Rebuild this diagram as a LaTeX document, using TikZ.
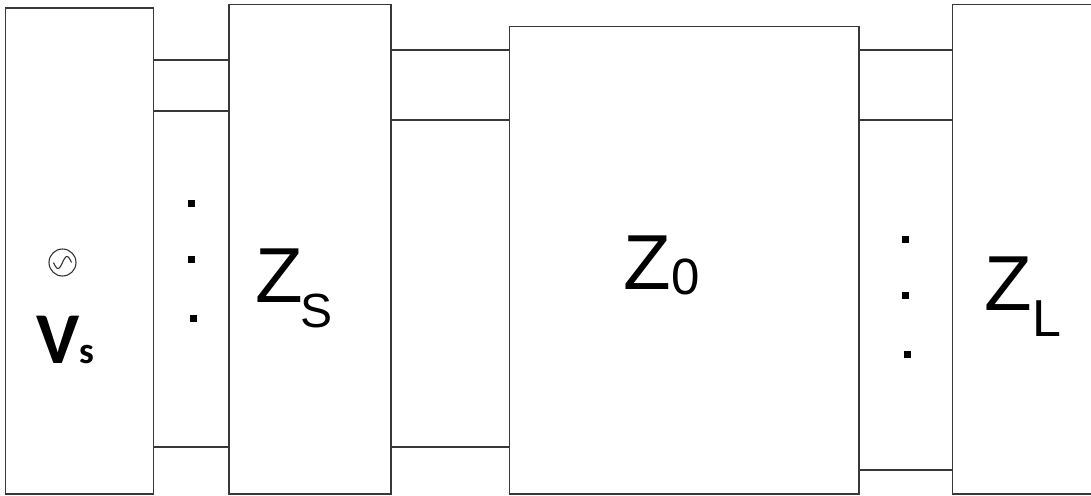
\documentclass[tikz,border=0pt]{standalone}
\usepackage{fontspec}
\setmainfont{Liberation Sans}
\newfontfamily\calib{Carlito}
\begin{document}
\begin{tikzpicture}[x=1pt,y=-1pt,
  box/.style={draw=black!78,line width=1.4pt,rectangle,inner sep=0pt,outer sep=0pt},
  wire/.style={draw=black!78,line width=1.4pt},
  sqdot/.style={fill=black,rectangle,minimum size=7pt,inner sep=0pt,outer sep=0pt},
  lbl/.style={inner sep=0pt,outer sep=0pt,anchor=base west,font=\fontsize{78}{78}\selectfont}]
\useasboundingbox (0,0) rectangle (1091,495);
\clip (0,0) rectangle (1091,495);
% boxes
\node[box,minimum width=148pt,minimum height=486pt] (b1) at (79.5,251) {};
\node[box,minimum width=162pt,minimum height=489.3pt] (b2) at (310,249.35) {};
\node[box,minimum width=349.7pt,minimum height=467.3pt] (b3) at (684.15,260.35) {};
\node[box,minimum width=160pt,minimum height=489.3pt] (b4) at (1032.7,249.35) {};
% connectors
\draw[wire] (b1.east |- 0,60) -- (b2.west |- 0,60);
\draw[wire] (b1.east |- 0,111) -- (b2.west |- 0,111);
\draw[wire] (b1.east |- 0,447) -- (b2.west |- 0,447);
\draw[wire] (b2.east |- 0,50) -- (b3.west |- 0,50);
\draw[wire] (b2.east |- 0,120) -- (b3.west |- 0,120);
\draw[wire] (b2.east |- 0,447) -- (b3.west |- 0,447);
\draw[wire] (b3.east |- 0,50) -- (b4.west |- 0,50);
\draw[wire] (b3.east |- 0,120) -- (b4.west |- 0,120);
\draw[wire] (b3.east |- 0,470) -- (b4.west |- 0,470);
% dots
\node[sqdot] (d1) at (191,203) {};
\node[sqdot] (d2) at (191,259.5) {};
\node[sqdot] (d3) at (193,318) {};
\node[sqdot] (d4) at (905,239) {};
\node[sqdot] (d5) at (905,295) {};
\node[sqdot] (d6) at (907.5,354) {};
% source symbol
\node[draw=black!80,line width=1.1pt,circle,minimum size=27pt,inner sep=0pt] (src) at (62.5,262.5) {};
\draw[black!80,line width=1.1pt,domain=-9:9,samples=40,smooth] plot ({\x+62.5},{262.5-6*sin(\x*20)});
% labels
\node[inner sep=0pt,outer sep=0pt,anchor=base west] (vs) at (36,363)
  {\calib\bfseries\fontsize{73}{73}\selectfont V\fontsize{37}{37}\selectfont s};
\node[lbl] (zs) at (255.4,302) {Z\kern-3pt\raisebox{-25pt}{\fontsize{48}{48}\selectfont S}};
\node[lbl] (z0) at (623.4,289) {Z\raisebox{-5pt}{\fontsize{51}{51}\selectfont 0}};
\node[lbl] (zl) at (984.4,310) {Z\raisebox{-26pt}{\fontsize{52}{52}\selectfont L}};
\end{tikzpicture}
\end{document}
